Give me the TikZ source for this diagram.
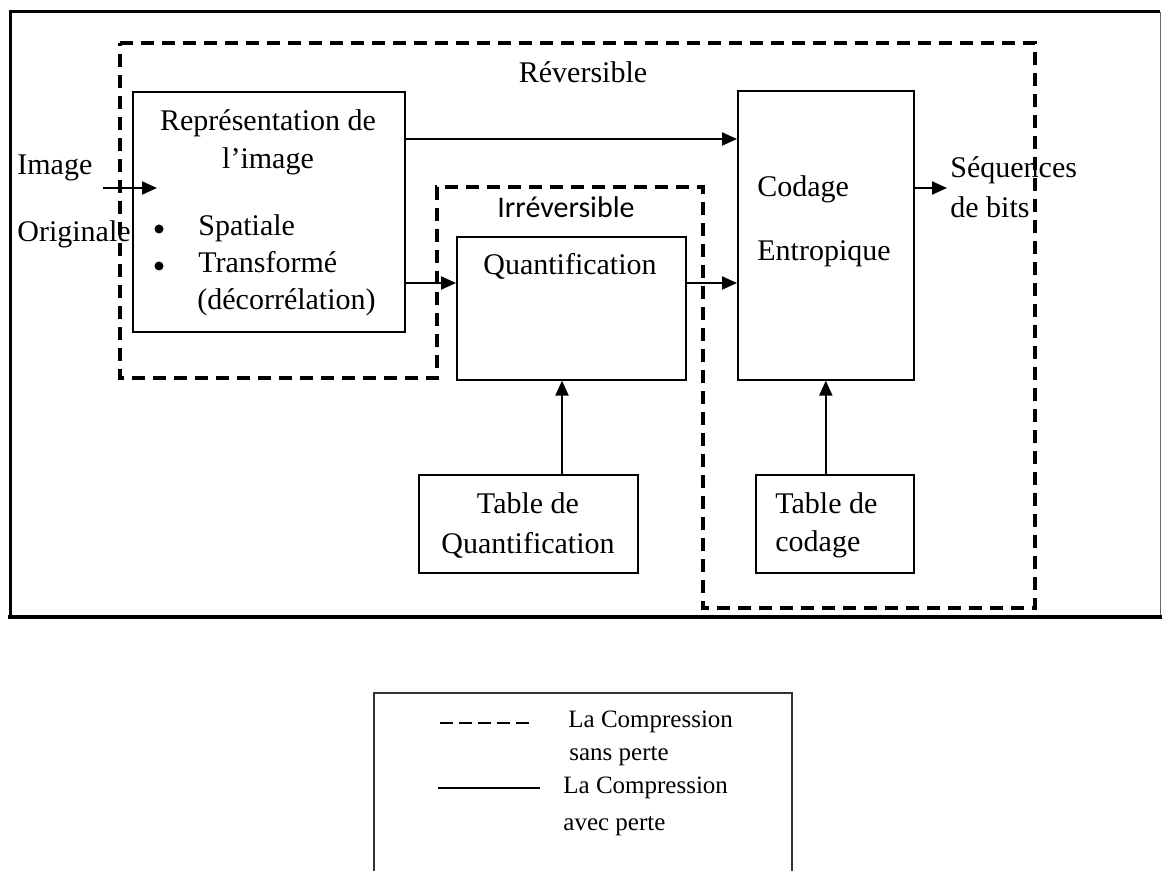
\documentclass[tikz,border=0pt]{standalone}
\usepackage{fontspec}
\setmainfont{Liberation Serif}
\newfontfamily\sanscal{Carlito}
\usetikzlibrary{arrows.meta, positioning, calc}

\begin{document}
\begin{tikzpicture}[
  x=0.5pt, y=-0.5pt,
  every node/.style={font=\fontsize{15}{18.5}\selectfont, inner sep=0pt},
  bloc/.style={draw, line width=0.8pt, anchor=north west},
  zone/.style={draw, line width=2pt, dash pattern=on 6.5pt off 4pt},
  fleche/.style={draw, line width=1pt, -{Triangle[length=7.5pt, width=6.5pt]}},
  puce/.style={circle, fill, minimum size=4.5pt},
  legende/.style={font=\fontsize{12.5}{15}\selectfont, anchor=base west},
]
\useasboundingbox (0,0) rectangle (1162,871);

% cadre
\draw[line width=1.5pt] (10,617) -- (10,12) -- (1160,12);
\draw[line width=0.5pt, black!60] (1160,12) -- (1160,617);
\draw[line width=2.2pt] (8,617) -- (1162,617);

% zone reversible (tirets)
\draw[zone] (120,43) -- (1035,43) -- (1035,608) -- (703,608) -- (703,187)
  -- (437,187) -- (437,378) -- (120,378) -- cycle;
\node[anchor=base] (rev) at (583,83) {Réversible};
\node[anchor=base, font=\sanscal\fontsize{15}{18}\selectfont] (irrev) at (566,218) {Irréversible};

% blocs
\node[bloc, minimum width=136pt, minimum height=120pt] (repr) at (132,91) {};
\node[bloc, minimum width=114.5pt, minimum height=71.5pt] (quant) at (456,236) {};
\node[bloc, minimum width=88pt, minimum height=144.5pt] (codage) at (737,90) {};
\node[bloc, minimum width=109.5pt, minimum height=49pt] (tabq) at (418,474) {};
\node[bloc, minimum width=79pt, minimum height=49pt] (tabc) at (755,474) {};

% textes des blocs
\node[anchor=base] (repr1) at (268,131) {Représentation de};
\node[anchor=base] (repr2) at (268,169) {l’image};
\node[puce] (puce1) at (159,229) {};
\node[puce] (puce2) at (159,266) {};
\node[anchor=base west] (spat) at (198,236) {Spatiale};
\node[anchor=base west] (trans) at (198,273) {Transformé};
\node[anchor=base west] (decor) at (197,310) {(décorrélation)};
\node[anchor=base] (quanttxt) at (570,275) {Quantification};
\node[anchor=base west] (cod1) at (757,197) {Codage};
\node[anchor=base west] (cod2) at (757,261) {Entropique};
\node[anchor=base] (tabq1) at (528,513) {Table de};
\node[anchor=base] (tabq2) at (528,553) {Quantification};
\node[anchor=base west] (tabc1) at (775,513) {Table de};
\node[anchor=base west] (tabc2) at (775,552) {codage};
\node[anchor=base west] (img1) at (17,175) {Image};
\node[anchor=base west] (img2) at (17,242) {Originale};
\node[anchor=base west] (seq1) at (950,178) {Séquences};
\node[anchor=base west] (seq2) at (950,218) {de bits};

% fleches
\coordinate (entree) at (103,188);
\coordinate (entreefin) at (157,188);
\coordinate (haut) at (0,139);
\coordinate (bas) at (0,283);
\coordinate (sortiefin) at (947,188);
\coordinate (colq) at (562,0);
\draw[fleche] (entree) -- (entreefin);
\draw[fleche] (repr.east |- haut) -- (codage.west |- haut);
\draw[fleche] (repr.east |- bas) -- (quant.west |- bas);
\draw[fleche] (quant.east |- bas) -- (codage.west |- bas);
\draw[fleche] (codage.east |- entree) -- (sortiefin);
\draw[fleche] (tabq.north -| colq) -- (quant.south -| colq);
\draw[fleche] (tabc.north -| codage.south) -- (codage.south);

% legende
\draw[line width=0.8pt, black!80] (374,875) -- (374,693) -- (792,693) -- (792,875);
\coordinate (tiret1) at (440,723);
\coordinate (tiret2) at (535,723);
\coordinate (trait1) at (438,788);
\coordinate (trait2) at (540,788);
\draw[line width=0.8pt, dash pattern=on 6.5pt off 3pt] (tiret1) -- (tiret2);
\draw[line width=0.8pt] (trait1) -- (trait2);
\node[legende] (leg1) at (568,727) {La Compression};
\node[legende] (leg2) at (569,760) {sans perte};
\node[legende] (leg3) at (563,793) {La Compression};
\node[legende] (leg4) at (563,830) {avec perte};
\end{tikzpicture}
\end{document}
